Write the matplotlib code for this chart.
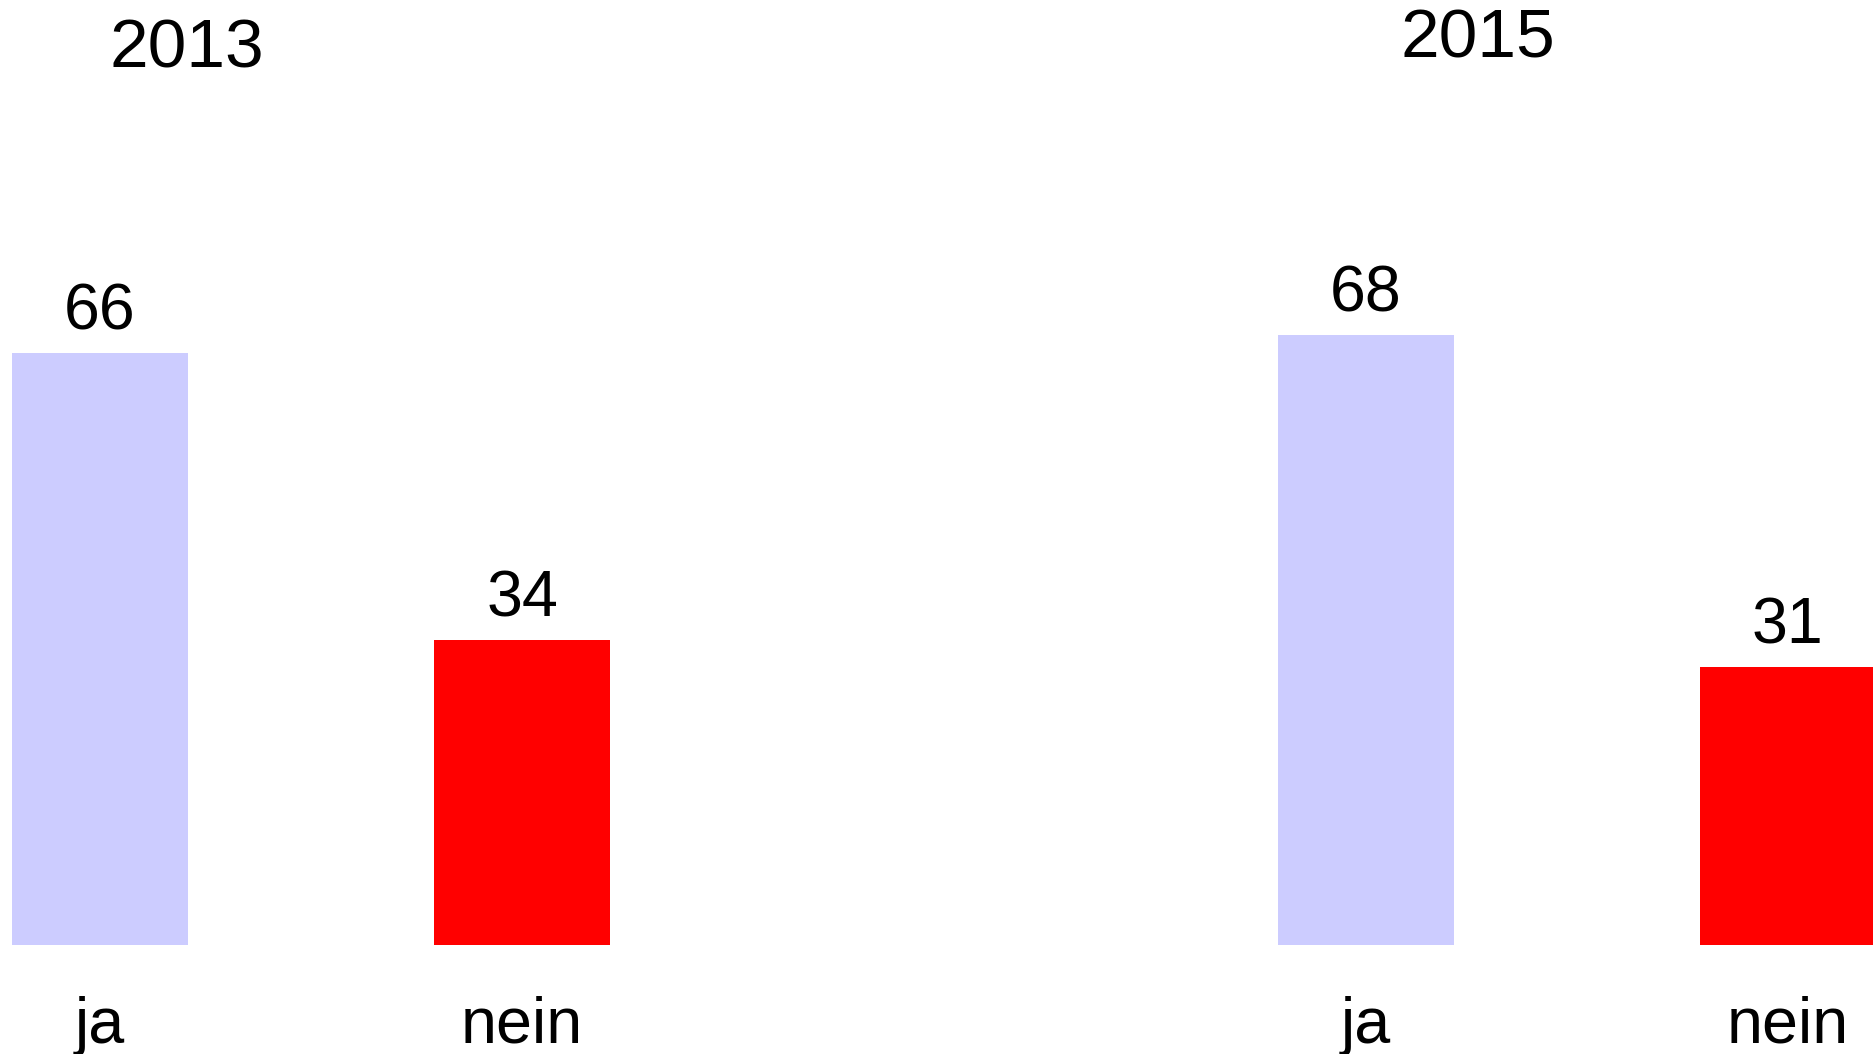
import matplotlib
matplotlib.use('Agg')
import matplotlib.pyplot as plt

years = ["2013", "2015"]
answers = ["ja", "nein", "ja", "nein"]
values = [66, 34, 68, 31]
positions = [0, 1, 3, 4]
colors = ["#ccccff", "#ff0000", "#ccccff", "#ff0000"]

plt.rcParams['font.family'] = ['Liberation Sans', 'DejaVu Sans']

fig = plt.figure(figsize=(18.74, 10.54), dpi=100)
# Achse ueber die ganze Breite, Grundlinie bei ca. 945 px von oben
ax = fig.add_axes([0, 109 / 1054, 1, 945 / 1054])
ax.bar(positions, values, width=0.417, color=colors)
ax.set_xlim(-0.237, 4.204)
ax.set_ylim(0, 105.35)
ax.axis('off')

for x, v, lab in zip(positions, values, answers):
    ax.annotate(str(v), (x, v), xytext=(0, 17), textcoords='offset points',
                ha='center', va='baseline', fontsize=46.5)
    ax.annotate(lab, (x, 0), xytext=(0, -70.5), textcoords='offset points',
                ha='center', va='baseline', fontsize=46.5, annotation_clip=False)

fig.text(187 / 1874, 1 - 67 / 1054, years[0], ha='center', va='baseline', fontsize=50)
fig.text(1478 / 1874, 1 - 57 / 1054, years[1], ha='center', va='baseline', fontsize=50)

fig.savefig("out.png", dpi=100)
